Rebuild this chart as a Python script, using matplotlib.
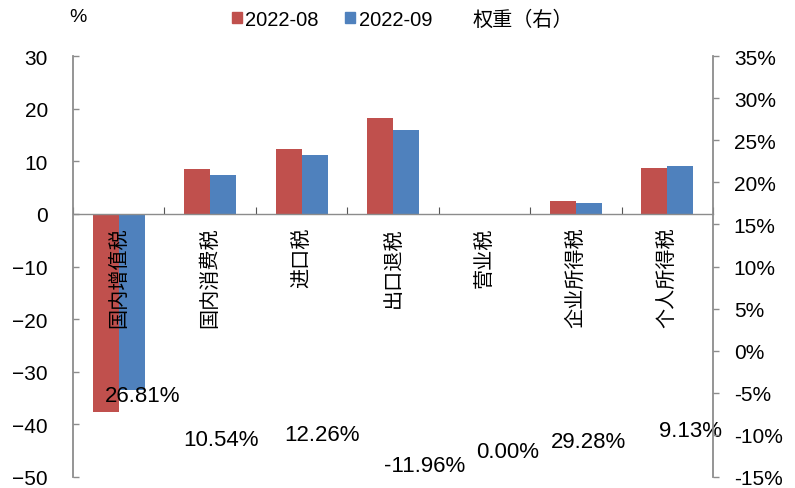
import matplotlib
matplotlib.use('Agg')
import matplotlib.pyplot as plt
from matplotlib.patches import Patch
from matplotlib.lines import Line2D

plt.rcParams['font.family'] = ['Liberation Sans', 'Noto Sans CJK SC', 'DejaVu Sans']

# data
categories = ['国内增值税', '国内消费税', '进口税', '出口退税', '营业税', '企业所得税', '个人所得税']
aug_2022 = [-37.7, 8.6, 12.3, 18.2, 0.0, 2.5, 8.8]
sep_2022 = [-33.4, 7.3, 11.2, 16.0, 0.0, 2.0, 9.1]
weights = [26.81, 10.54, 12.26, -11.96, 0.00, 29.28, 9.13]
series_names = ['2022-08', '2022-09', '权重（右）']

red = '#C0504D'
blue = '#4F81BD'
grey = '#8C8C8C'

# where the weight labels sit (left-axis data coords), as in the source chart
wlabel_x = [0.26, 1.12, 2.22, 3.35, 4.25, 5.14, 6.25]
wlabel_y = [-34.6, -42.8, -42.0, -47.9, -45.1, -43.3, -41.1]

fig = plt.figure(figsize=(7.95, 4.89), dpi=100)
ax = fig.add_axes([0.0918, 0.0225, 0.8051, 0.8609])
ax2 = ax.twinx()

n = len(categories)
idx = list(range(n))
w = 0.285
ax.bar([i - w / 2 for i in idx], aug_2022, width=w, color=red, zorder=2)
ax.bar([i + w / 2 for i in idx], sep_2022, width=w, color=blue, zorder=2)

ax.set_xlim(-0.5, n - 0.5)
ax.set_ylim(-50, 30)
ax.set_yticks(range(-50, 31, 10))
ax2.set_ylim(-15, 35)
ax2.set_yticks(range(-15, 36, 5))
ax2.set_yticklabels([f'{v}%' for v in range(-15, 36, 5)])

# spines
ax.spines['top'].set_visible(False)
ax2.spines['top'].set_visible(False)
ax2.spines['bottom'].set_visible(False)
ax2.spines['left'].set_visible(False)
ax.spines['right'].set_visible(False)
ax.spines['left'].set_color(grey)
ax.spines['left'].set_linewidth(1.3)
ax2.spines['right'].set_color(grey)
ax2.spines['right'].set_linewidth(1.3)
ax.spines['bottom'].set_position(('data', 0))
ax.spines['bottom'].set_color(grey)
ax.spines['bottom'].set_linewidth(1.0)

ax.set_xticks([i + 0.5 for i in range(-1, n)])
ax.set_xticklabels([])
ax.tick_params(axis='x', direction='in', length=5, color='#555555', width=0.8)
ax.tick_params(axis='y', direction='in', length=4, color=grey, width=1.0,
               labelsize=15, pad=18)
ax2.tick_params(axis='y', direction='out', length=4, color=grey, width=1.0,
                labelsize=15, pad=11)

# category labels, vertical under the zero line
for i, name in enumerate(categories):
    ax.text(i, -2.4, name, rotation=90, ha='center', va='top',
            fontsize=14.5, family=['Noto Sans CJK SC'], zorder=3)

# weight labels
for x, y, v in zip(wlabel_x, wlabel_y, weights):
    ax.text(x, y, f'{v:.2f}%', ha='center', va='center', fontsize=16, zorder=3)

fig.text(0.098, 0.965, '%', ha='center', va='center', fontsize=14)

handles = [Patch(color=red), Patch(color=blue), Line2D([], [], linestyle='none')]
fig.legend(handles, series_names, loc='center', bbox_to_anchor=(0.506, 0.959),
           ncol=3, frameon=False, fontsize=14.5, handlelength=0.5, handleheight=0.5,
           handletextpad=0.15, columnspacing=1.35, borderpad=0)

fig.savefig('out.png', dpi=100)
